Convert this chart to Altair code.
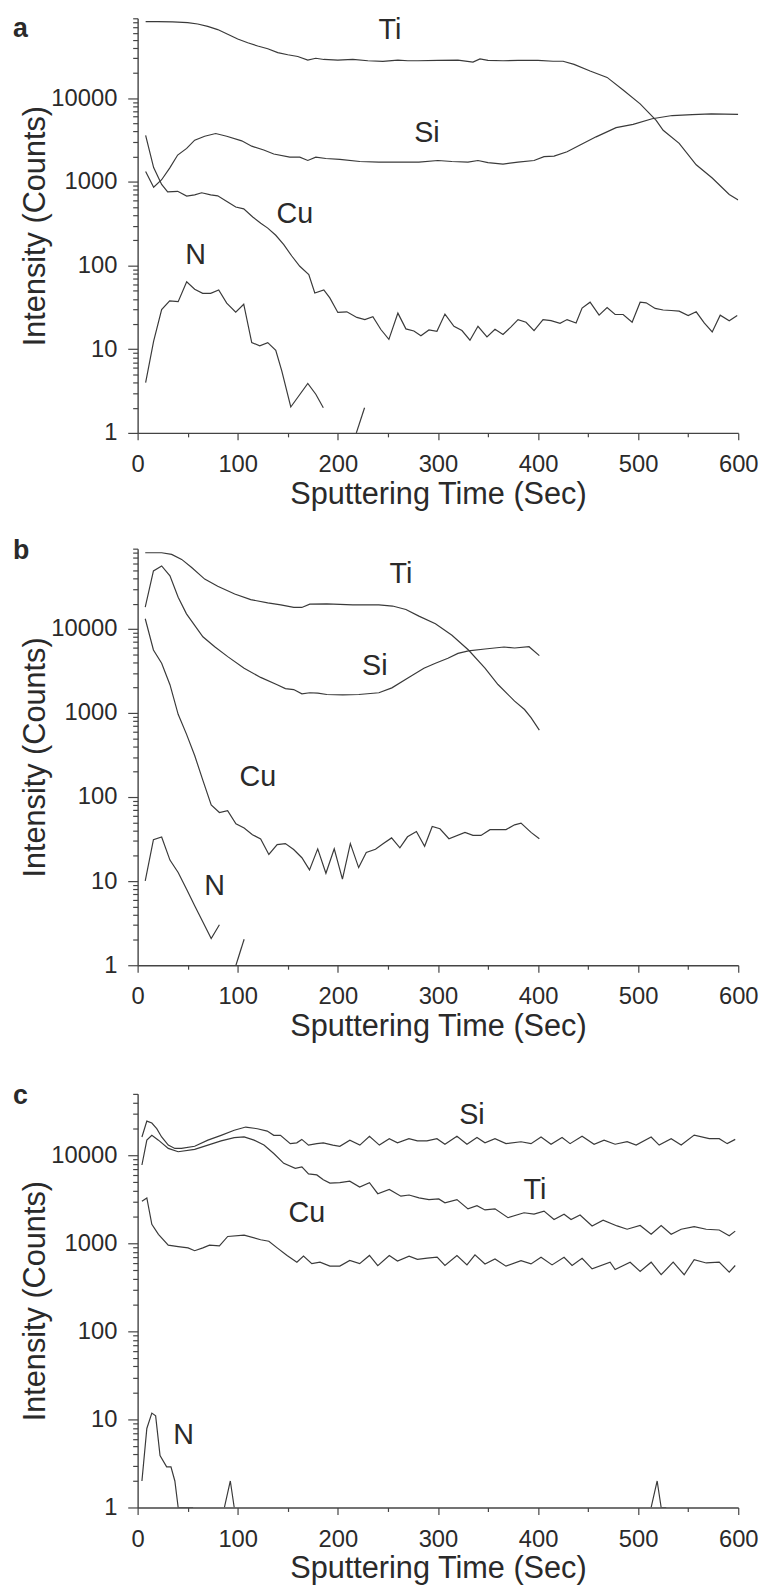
import altair as alt
import pandas as pd

FONT = "Liberation Sans"
INK = "#2a2a2a"
LINE = "#3a3a3a"
AXC = "#444444"

# ---------------- Panel a ----------------
A_TI_T = [8, 20, 35, 50, 60, 70, 80, 90, 100, 110, 120, 130, 140, 150, 160, 170, 178, 186, 200, 215,
          230, 245, 260, 270, 280, 300, 320, 335, 342, 350, 365, 380, 400, 415, 425, 436, 452, 469, 485,
          502, 518, 525, 541, 558, 574, 591, 600]
A_TI_V = [82000, 82000, 81500, 80000, 77000, 72000, 66000, 58000, 51000, 46000, 42000, 39000, 35000,
          33000, 31500, 28500, 30000, 29000, 28500, 29000, 28000, 27500, 28500, 28000, 28000, 28300,
          28500, 27000, 29500, 28300, 28000, 28300, 28300, 27600, 27600, 25300, 21100, 17700, 12500,
          8550, 5420, 4130, 2880, 1600, 1110, 705, 605]

A_SI_T = [8, 16, 24, 32, 40, 49, 57, 67, 78, 89, 104, 114, 126, 136, 152, 162, 170, 178, 188, 202, 222,
          241, 261, 281, 300, 314, 330, 340, 350, 365, 380, 396, 406, 416, 429, 442, 458, 478, 495, 514,
          534, 554, 573, 600]
A_SI_V = [1330, 863, 1060, 1460, 2090, 2510, 3150, 3510, 3780, 3510, 3090, 2670, 2400, 2150, 1970, 1970,
          1800, 1970, 1900, 1860, 1750, 1720, 1720, 1720, 1800, 1750, 1720, 1800, 1700, 1630, 1720, 1800,
          2000, 2030, 2290, 2750, 3450, 4450, 4870, 5680, 6200, 6350, 6500, 6400]

A_CU_T = [8, 16, 24, 30, 40, 49, 57, 64, 73, 80, 90, 98, 106, 115, 123, 130, 138, 146, 154, 162, 171,
          177, 186, 192, 200, 209, 219, 227, 235, 243, 251, 260, 268, 276, 283, 291, 299, 307, 316, 324,
          332, 340, 349, 357, 365, 373, 380, 388, 396, 405, 413, 422, 429, 438, 444, 452, 461, 469, 477,
          485, 494, 502, 508, 517, 525, 533, 541, 550, 558, 566, 574, 582, 591, 599]
A_CU_V = [3600, 1480, 930, 760, 770, 676, 700, 740, 700, 680, 575, 500, 475, 380, 320, 280, 230, 178,
          130, 98, 78, 47, 51, 41, 27.5, 28, 24, 22.6, 24.5, 17.2, 13.1, 27, 17.5, 16.5, 14.5, 17, 16.4,
          26.3, 18.8, 16.7, 12.8, 18.8, 14, 17.3, 15, 18.5, 22.6, 21, 16.7, 22.6, 22, 20.4, 22.6, 20.6,
          31, 36.5, 25.5, 31.4, 26, 26, 21, 36.5, 35.8, 30.7, 29.4, 29, 28.5, 25.2, 28, 20.6, 16.1, 25.5,
          21.9, 25.2]

A_N1_T = [8, 16, 24, 32, 40.5, 49, 57, 65, 73, 81, 89, 98, 106, 114, 122, 130, 138, 144, 153, 170, 178, 185.5]
A_N1_V = [4.0, 12.5, 29.7, 37.9, 37, 64, 52, 46.6, 46.6, 51, 35.5, 27.8, 34.5, 12, 11, 12, 9.7, 5.5,
          2.04, 3.9, 2.9, 2.0]
A_N2_T = [218.5, 226.7]
A_N2_V = [1, 2]

A_LAB = ["Ti", "Si", "Cu", "N"]
A_LAB_T = [252, 289, 157, 58]
A_LAB_V = [65600, 3850, 410, 132]

# ---------------- Panel b ----------------
B_TI_T = [7.6, 24, 34, 44, 54, 67, 80, 97, 113, 130, 143, 156, 164, 172, 189, 215, 241, 254.7, 268,
          281, 297.5, 314, 330.5, 347, 360, 376.6, 386.5, 393, 401.3]
B_TI_V = [80500, 80500, 76900, 67100, 53700, 39100, 32100, 26000, 22300, 20400, 19300, 18000, 18000,
          19700, 19800, 19300, 19300, 18700, 17000, 14200, 11500, 8420, 5610, 3410, 2180, 1385, 1100,
          880, 625]

B_SI_T = [7.6, 15.8, 24, 32.3, 40.5, 48.8, 57, 65.2, 77, 90, 106.4, 122.9, 139.4, 147.6, 155.9, 164.1,
          172, 180, 189, 205, 221, 241, 254, 270, 286, 297.5, 310, 320, 330.5, 347, 366, 376.6, 391, 401.3]
B_SI_V = [18100, 49000, 56100, 42800, 23800, 15100, 11000, 8050, 6140, 4680, 3410, 2650, 2170, 1950,
          1900, 1690, 1740, 1720, 1660, 1640, 1660, 1740, 1990, 2600, 3410, 3900, 4470, 5120, 5470, 5770,
          6090, 5930, 6140, 4810]

B_CU_T = [7.6, 15.8, 24, 32.3, 40.5, 48.8, 57, 65.2, 73.5, 81.7, 89.9, 98.2, 106.4, 114.7, 122.9, 131.1,
          139.4, 147.6, 155.9, 164.1, 171.7, 179.9, 188.1, 196.4, 204.6, 212.5, 220.8, 228.4, 237.6,
          245.5, 253.7, 262, 269.6, 278.5, 286.7, 294.3, 302, 311, 327, 335, 343, 352, 368, 376.6, 383,
          393, 401.3]
B_CU_V = [13200, 5610, 3900, 2170, 965, 561, 312, 158, 80.5, 65.5, 69, 48, 42.8, 35.7, 31.8, 20.8, 27.2,
          28, 23.8, 19, 13.6, 24.2, 12.4, 24.2, 10.6, 28, 14.5, 22, 24, 28, 32.7, 24.9, 33.7, 39, 26, 44.7,
          42, 32, 38, 35, 35, 41, 41, 46.8, 49, 38, 32]

B_N1_T = [7.6, 15.8, 24, 32.3, 40.5, 48.8, 57, 65.2, 73.5, 81.7]
B_N1_V = [10.1, 31.2, 33.5, 17.8, 12.7, 8.05, 5.1, 3.27, 2.08, 3.03]
B_N2_T = [98.2, 106.4]
B_N2_V = [1, 2.04]

B_LAB = ["Ti", "Si", "Cu", "N"]
B_LAB_T = [263, 237, 120, 77]
B_LAB_V = [44700, 3570, 173, 8.8]

# ---------------- Panel c ----------------
C_SI_T = [4.3, 9.2, 14.2, 19.1, 24, 30.6, 37.2, 43.8, 57, 70.2, 83.4, 96.5, 108, 119.6, 129.5, 136,
          142.7, 152.5, 159, 164, 170.7, 179, 185.5, 195, 202, 212, 222, 231.6, 241.5, 251.4, 259.6,
          271, 279.5, 289, 299, 307, 319, 329, 339, 347, 357, 368, 383, 393, 403, 413, 424, 432, 444,
          456, 466, 477, 489, 498, 513, 521, 533, 543, 556, 571, 581, 589, 597]
C_SI_V = [16200, 24500, 23300, 20100, 16200, 13100, 12000, 12000, 12700, 14900, 16900, 19300, 21000,
          20100, 18900, 16900, 16900, 13600, 13900, 15200, 13100, 13600, 13900, 13100, 12700, 14900,
          13100, 16500, 13100, 15500, 13900, 15500, 14600, 14600, 15500, 13400, 16500, 13400, 16000,
          13900, 15500, 13600, 14300, 13600, 16200, 13400, 16000, 13600, 16500, 13400, 14900, 13400,
          14300, 13100, 16200, 13100, 15500, 13100, 17000, 15500, 15500, 13600, 15200]

C_TI_T = [4.3, 9.2, 14.2, 20.8, 30.6, 40.5, 57, 70.2, 83.4, 96.5, 106.4, 116.3, 126.2, 136, 146, 157.5,
          164.1, 170.7, 179, 185.5, 192.1, 202, 211.9, 221.8, 231.6, 239.9, 251.4, 263, 271.2, 281.1,
          291, 300.8, 307, 319, 330, 339, 347, 357, 370, 386, 396, 406, 416, 426, 433, 442, 454, 465,
          479, 489, 502, 513, 523, 533, 543, 556, 568, 581, 591, 597]
C_TI_V = [7780, 14900, 16900, 14900, 12000, 11000, 11700, 13100, 14600, 15900, 16200, 14900, 13100,
          10500, 8130, 7140, 7400, 6170, 6000, 5290, 4850, 4900, 5100, 4370, 4900, 3670, 4100, 3440,
          3550, 3290, 3150, 3200, 2890, 3150, 2470, 2680, 2400, 2470, 1960, 2230, 2150, 2330, 1870,
          2150, 1870, 2100, 1580, 1840, 1580, 1450, 1600, 1270, 1600, 1270, 1450, 1550, 1450, 1420,
          1220, 1380]

C_CU_T = [4.3, 9.2, 14.2, 20.8, 30.6, 40.5, 50.4, 57, 65.2, 71.8, 81.7, 90, 106.4, 122.9, 131.1, 139.4,
          149.3, 159.1, 165.7, 174, 182.2, 192.1, 202, 211.9, 221.8, 231.6, 239.9, 251.4, 259.6, 271.2,
          279.5, 289.3, 299.2, 307, 319, 329, 337, 347, 357, 368, 383, 393, 403, 414, 426, 434, 444, 454,
          472, 477, 492, 502, 513, 523, 535, 546, 556, 568, 581, 591, 597]
C_CU_V = [3010, 3290, 1650, 1270, 956, 920, 890, 826, 890, 956, 940, 1200, 1240, 1100, 1060, 890, 728,
          612, 718, 590, 612, 552, 552, 640, 590, 730, 560, 730, 630, 718, 660, 680, 700, 561, 728, 570,
          740, 585, 667, 552, 638, 585, 697, 570, 697, 561, 678, 514, 612, 506, 612, 481, 612, 441, 612,
          441, 655, 600, 612, 472, 561]

C_N1_T = [4.3, 9.2, 14.2, 18, 22.4, 29, 33.3, 37.2, 40.5, 55.4]
C_N1_V = [2.0, 7.9, 11.8, 11, 3.9, 2.9, 2.9, 2.0, 1, 1]
C_N2_T = [86.7, 92.6, 96.5]
C_N2_V = [1, 2, 1]
C_N3_T = [513, 519, 523, 528]
C_N3_V = [1, 2, 1, 1]

C_LAB = ["Si", "Ti", "Cu", "N"]
C_LAB_T = [334, 397, 169, 46]
C_LAB_V = [28400, 4070, 2230, 6.6]

X_MAJOR = [0, 100, 200, 300, 400, 500, 600]
X_MINOR = [50, 150, 250, 350, 450, 550]
Y_MAJOR = [1, 10, 100, 1000, 10000]


def rows(key, ts, vs):
    return [{"t": t, "v": v, "key": key} for t, v in zip(ts, vs)]


def panel(series, lab, lab_t, lab_v, letter, ymax, height, tag_y):
    data = []
    for key, ts, vs in series:
        data += rows(key, ts, vs)
    df = pd.DataFrame(data)
    labdf = pd.DataFrame({"t": lab_t, "v": lab_v, "name": lab})

    y_minor = [m * 10 ** e for e in range(5) for m in range(2, 10) if m * 10 ** e <= ymax]
    xs = alt.Scale(domain=[0, 600], nice=False, zero=False)
    ys = alt.Scale(type="log", domain=[1, ymax], nice=False)

    x_major = alt.X("t:Q", scale=xs, axis=alt.Axis(
        orient="bottom", values=X_MAJOR, tickSize=7, labelPadding=13, titlePadding=3,
        title="Sputtering Time (Sec)"))
    y_major = alt.Y("v:Q", scale=ys, axis=alt.Axis(
        orient="left", values=Y_MAJOR, format="d", tickSize=10, labelPadding=11, titlePadding=-1,
        title="Intensity (Counts)"))
    x_minor = alt.X("t:Q", scale=xs, axis=alt.Axis(
        orient="bottom", values=X_MINOR, tickSize=4, labels=False, domain=False, title=None))
    y_minor_enc = alt.Y("v:Q", scale=ys, axis=alt.Axis(
        orient="left", values=y_minor, tickSize=5, labels=False, domain=False, title=None))

    lines = alt.Chart(df).mark_line(color=LINE, strokeWidth=1.2, clip=True).encode(
        x=x_major, y=y_major, detail="key:N"
    )
    texts = alt.Chart(labdf).mark_text(font=FONT, fontSize=29, color=INK).encode(
        x=x_minor, y=y_minor_enc, text="name:N"
    )
    tag = alt.Chart(pd.DataFrame({"tag": [letter]})).mark_text(
        font=FONT, fontSize=27, fontWeight="bold", color=INK, align="left", baseline="alphabetic"
    ).encode(x=alt.value(-126), y=alt.value(tag_y), text="tag:N")
    return (
        alt.layer(lines, texts, tag)
        .resolve_axis(x="independent", y="independent")
        .properties(width=607, height=height)
    )


pa = panel(
    [("Ti", A_TI_T, A_TI_V), ("Si", A_SI_T, A_SI_V), ("Cu", A_CU_T, A_CU_V),
     ("N1", A_N1_T, A_N1_V), ("N2", A_N2_T, A_N2_V)],
    A_LAB, A_LAB_T, A_LAB_V, "a", 90000, 419, 19,
)
pb = panel(
    [("Ti", B_TI_T, B_TI_V), ("Si", B_SI_T, B_SI_V), ("Cu", B_CU_T, B_CU_V),
     ("N1", B_N1_T, B_N1_V), ("N2", B_N2_T, B_N2_V)],
    B_LAB, B_LAB_T, B_LAB_V, "b", 90000, 421, 10,
)
pc = panel(
    [("Si", C_SI_T, C_SI_V), ("Ti", C_TI_T, C_TI_V), ("Cu", C_CU_T, C_CU_V),
     ("N1", C_N1_T, C_N1_V), ("N2", C_N2_T, C_N2_V), ("N3", C_N3_T, C_N3_V)],
    C_LAB, C_LAB_T, C_LAB_V, "c", 50000, 418, 10,
)

chart = (
    alt.vconcat(alt.vconcat(pa, pb, spacing=28), pc, spacing=41)
    .properties(padding={"left": 5, "top": -1, "right": 2, "bottom": 0})
    .configure_view(stroke=None)
    .configure_axis(
        labelFont=FONT, titleFont=FONT, labelFontSize=24, titleFontSize=31,
        labelColor=INK, titleColor=INK, titleFontWeight="normal",
        domainColor=AXC, tickColor=AXC, domainWidth=1.4, tickWidth=1.2,
        grid=False, labelFlush=False, labelOverlap=False, labelBound=False,
    )
)

chart.save("out.html", embed_options={"renderer": "svg", "actions": False})
